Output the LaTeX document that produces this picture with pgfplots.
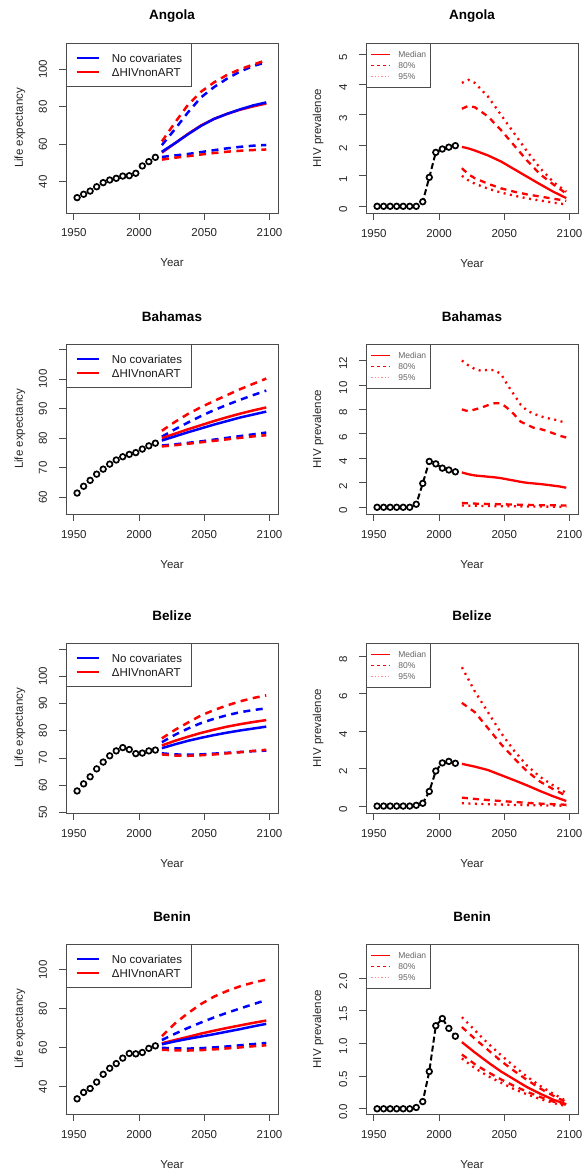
\documentclass[border=0pt]{standalone}
\usepackage{fontspec}
\setmainfont{Liberation Sans}
\usepackage{pgfplots}
\pgfplotsset{compat=1.18}
\definecolor{rblue}{RGB}{0,0,255}
\definecolor{rred}{RGB}{255,0,0}
\definecolor{rpink}{RGB}{255,140,140}
\definecolor{axgray}{RGB}{75,75,75}
\pgfplotsset{
 base/.style={
  scale only axis, width=212pt, height=170pt,
  xmin=1944, xmax=2106.5,
  xtick={1950,2000,2050,2100},
  axis line style={axgray, line width=0.9pt},
  every tick/.style={axgray, line width=0.9pt},
  tick align=outside, major tick length=7pt,
  xtick pos=left, ytick pos=left,
  /pgf/number format/assume math mode=true,
  /pgf/number format/1000 sep={},
  tick label style={font=\fontsize{11.5}{12}\selectfont, text=black!85},
  xticklabel style={anchor=base, yshift=-17pt},
  yticklabel style={xshift=-12pt, rotate=90, anchor=base},
  every axis x label/.style={at={(axis description cs:0.5,0)}, anchor=base, yshift=-54pt, font=\fontsize{11.5}{12}\selectfont, text=black!85},
  every axis title/.style={at={(axis description cs:0.5,1)}, anchor=base, yshift=23pt, font=\bfseries\fontsize{13.5}{15}\selectfont},
  xlabel={Year},
 },
 leL/.style={base,
  every axis y label/.style={at={(axis description cs:0,0.5)}, xshift=-43pt, rotate=90, anchor=base, font=\fontsize{11.5}{12}\selectfont, text=black!85},
  ylabel={Life expectancy},
  legend cell align=left,
  legend style={at={(axis description cs:0,1)}, anchor=north west, draw=axgray, line width=0.9pt, fill=white,
    inner xsep=9.5pt, inner ysep=10.5pt, row sep=5.7pt, column sep=12.5pt,
    font=\fontsize{11.5}{12}\selectfont, text=black!90,
    nodes={inner sep=0pt, text height=8.3pt, text depth=0pt}},
  legend image code/.code={\draw[##1] (0pt,0pt) -- (22pt,0pt);},
 },
 hiv/.style={base,
  every axis y label/.style={at={(axis description cs:0,0.5)}, xshift=-45pt, rotate=90, anchor=base, font=\fontsize{11.5}{12}\selectfont, text=black!85},
  ylabel={HIV prevalence},
  yticklabel style={xshift=-3pt},
  legend cell align=left,
  legend style={at={(axis description cs:0,1)}, anchor=north west, draw=axgray, line width=0.9pt, fill=white,
    inner xsep=4pt, inner ysep=8pt, row sep=4.9pt, column sep=7pt,
    font=\fontsize{8.5}{9}\selectfont, text=black!60,
    nodes={inner sep=0pt, text height=6.1pt, text depth=0pt}},
  legend image code/.code={\draw[##1] (0pt,0pt) -- (19pt,0pt);},
 },
 obs/.style={only marks, mark=o, mark size=2.8pt, line width=1.7pt, black, forget plot},
 hobs/.style={black, line width=2pt, dash pattern=on 6pt off 3pt, mark=*, mark size=2.8pt, mark options={solid, fill=white, draw=black, line width=1.7pt}, forget plot},
 med/.style={line width=2.5pt, line cap=butt, forget plot},
 dsh/.style={line width=2.5pt, line cap=butt, dash pattern=on 7pt off 5.5pt, forget plot},
 hmed/.style={rred, line width=2.3pt, line cap=butt, forget plot},
 h80/.style={rred, line width=2.3pt, line cap=butt, dash pattern=on 6pt off 5pt, forget plot},
 h95/.style={rred, line width=2.3pt, line cap=butt, dash pattern=on 2pt off 4.5pt, forget plot},
}
\newcommand{\leleg}{%
 \addlegendimage{draw=rblue, color=rblue, line width=1.4pt}\addlegendentry{No covariates}
 \addlegendimage{draw=rred, color=rred, line width=1.4pt}\addlegendentry{ΔHIVnonART}}
\newcommand{\hivleg}{%
 \addlegendimage{draw=rred, color=rred, solid, line width=1.9pt}\addlegendentry{Median}
 \addlegendimage{draw=rred, color=rred, line width=1.9pt, dash pattern=on 3pt off 3pt}\addlegendentry{80\%}
 \addlegendimage{draw=rpink, color=rpink, line width=1.5pt, dash pattern=on 1.3pt off 2pt}\addlegendentry{95\%}}
\begin{document}
\begin{tikzpicture}
%================ Angola LE
\begin{axis}[leL, at={(66pt,-43pt)}, anchor=north west, title={Angola},
  ymin=23.3, ymax=114, ytick={40,60,80,100}]
\leleg
\addplot[obs] coordinates {(1952.5,31.5)(1957.5,33.3)(1962.5,35.0)(1967.5,37.3)(1972.5,39.5)(1977.5,40.9)(1982.5,41.8)(1987.5,43.0)(1992.5,43.2)(1997.5,44.5)(2002.5,48.4)(2007.5,50.7)(2012.5,53.0)};
\addplot[dsh, rblue] coordinates {(2017.5,59.5)(2027.5,68.0)(2037.5,77.0)(2047.5,85.0)(2057.5,90.5)(2067.5,95.0)(2077.5,98.8)(2087.5,101.7)(2097.5,103.8)};
\addplot[dsh, rblue] coordinates {(2017.5,53.2)(2027.5,54.0)(2037.5,54.8)(2047.5,55.8)(2057.5,56.8)(2067.5,57.8)(2077.5,58.6)(2087.5,59.2)(2097.5,59.6)};
\addplot[dsh, rred] coordinates {(2017.5,61.5)(2027.5,71.5)(2037.5,81.0)(2047.5,88.0)(2057.5,93.0)(2067.5,97.0)(2077.5,100.0)(2087.5,102.5)(2097.5,104.8)};
\addplot[dsh, rred] coordinates {(2017.5,51.8)(2027.5,52.8)(2037.5,53.6)(2047.5,54.5)(2057.5,55.3)(2067.5,56.0)(2077.5,56.5)(2087.5,56.9)(2097.5,57.2)};
\addplot[med, rred] coordinates {(2017.5,55.5)(2027.5,60.5)(2037.5,65.5)(2047.5,70.0)(2057.5,73.5)(2067.5,76.2)(2077.5,78.4)(2087.5,80.2)(2097.5,81.7)};
\addplot[med, rblue] coordinates {(2017.5,56.0)(2027.5,60.5)(2037.5,65.3)(2047.5,69.8)(2057.5,73.5)(2067.5,76.2)(2077.5,78.6)(2087.5,80.7)(2097.5,82.3)};
\end{axis}
%================ Angola HIV
\begin{axis}[hiv, at={(366pt,-43pt)}, anchor=north west, title={Angola},
  ymin=-0.22, ymax=5.36, ytick={0,1,2,3,4,5}]
\hivleg
\addplot[hobs] coordinates {(1952.5,0)(1957.5,0)(1962.5,0)(1967.5,0)(1972.5,0)(1977.5,0)(1982.5,0)(1987.5,0.15)(1992.5,0.95)(1997.5,1.77)(2002.5,1.88)(2007.5,1.94)(2012.5,1.99)};
\addplot[hmed] coordinates {(2017.5,1.95)(2022.5,1.90)(2027.5,1.83)(2037.5,1.67)(2047.5,1.47)(2057.5,1.22)(2067.5,0.97)(2077.5,0.72)(2087.5,0.48)(2097.5,0.27)};
\addplot[h80] coordinates {(2017.5,3.20)(2022.5,3.30)(2027.5,3.25)(2037.5,2.95)(2047.5,2.50)(2057.5,2.00)(2067.5,1.50)(2077.5,1.05)(2087.5,0.72)(2097.5,0.42)};
\addplot[h80] coordinates {(2017.5,1.25)(2022.5,1.05)(2027.5,0.92)(2037.5,0.74)(2047.5,0.59)(2057.5,0.48)(2067.5,0.39)(2077.5,0.32)(2087.5,0.25)(2097.5,0.18)};
\addplot[h95] coordinates {(2017.5,4.05)(2022.5,4.15)(2027.5,4.05)(2037.5,3.60)(2047.5,3.00)(2057.5,2.40)(2067.5,1.80)(2077.5,1.25)(2087.5,0.80)(2097.5,0.48)};
\addplot[h95] coordinates {(2017.5,1.00)(2022.5,0.85)(2027.5,0.74)(2037.5,0.58)(2047.5,0.45)(2057.5,0.35)(2067.5,0.26)(2077.5,0.19)(2087.5,0.12)(2097.5,0.06)};
\end{axis}
%================ Bahamas LE
\begin{axis}[leL, at={(66pt,-344pt)}, anchor=north west, title={Bahamas},
  ymin=54.3, ymax=111.9, ytick={60,70,80,90,100,110}, yticklabels={60,70,80,90,100,{}}]
\leleg
\addplot[obs] coordinates {(1952.5,61.4)(1957.5,63.7)(1962.5,65.7)(1967.5,67.8)(1972.5,69.5)(1977.5,71.2)(1982.5,72.6)(1987.5,73.7)(1992.5,74.5)(1997.5,75.1)(2002.5,76.3)(2007.5,77.4)(2012.5,78.3)};
\addplot[dsh, rblue] coordinates {(2017.5,80.5)(2027.5,83.0)(2037.5,85.3)(2047.5,87.5)(2057.5,89.5)(2067.5,91.3)(2077.5,93.0)(2087.5,94.6)(2097.5,96.1)};
\addplot[dsh, rblue] coordinates {(2017.5,77.5)(2027.5,77.9)(2037.5,78.4)(2047.5,78.9)(2057.5,79.5)(2067.5,80.1)(2077.5,80.7)(2087.5,81.3)(2097.5,81.9)};
\addplot[dsh, rred] coordinates {(2017.5,82.5)(2027.5,85.5)(2037.5,88.2)(2047.5,90.5)(2057.5,92.6)(2067.5,94.6)(2077.5,96.6)(2087.5,98.4)(2097.5,100.2)};
\addplot[dsh, rred] coordinates {(2017.5,77.2)(2027.5,77.6)(2037.5,78.1)(2047.5,78.6)(2057.5,79.1)(2067.5,79.6)(2077.5,80.1)(2087.5,80.6)(2097.5,81.0)};
\addplot[med, rred] coordinates {(2017.5,80.0)(2027.5,81.5)(2037.5,83.0)(2047.5,84.4)(2057.5,85.8)(2067.5,87.1)(2077.5,88.3)(2087.5,89.4)(2097.5,90.4)};
\addplot[med, rblue] coordinates {(2017.5,79.2)(2027.5,80.6)(2037.5,82.0)(2047.5,83.3)(2057.5,84.6)(2067.5,85.8)(2077.5,87.0)(2087.5,88.0)(2097.5,89.0)};
\end{axis}
%================ Bahamas HIV
\begin{axis}[hiv, at={(366pt,-344pt)}, anchor=north west, title={Bahamas},
  ymin=-0.55, ymax=13.35, ytick={0,2,4,6,8,10,12}]
\hivleg
\addplot[hobs] coordinates {(1952.5,0)(1957.5,0)(1962.5,0)(1967.5,0)(1972.5,0)(1977.5,0)(1982.5,0.25)(1987.5,1.95)(1992.5,3.75)(1997.5,3.55)(2002.5,3.2)(2007.5,3.05)(2012.5,2.9)};
\addplot[hmed] coordinates {(2017.5,2.85)(2022.5,2.7)(2027.5,2.6)(2032.5,2.55)(2037.5,2.5)(2042.5,2.45)(2047.5,2.38)(2052.5,2.28)(2057.5,2.18)(2062.5,2.08)(2067.5,2.0)(2072.5,1.95)(2077.5,1.9)(2082.5,1.84)(2087.5,1.77)(2092.5,1.7)(2097.5,1.6)};
\addplot[h80] coordinates {(2017.5,8.0)(2022.5,7.85)(2027.5,8.0)(2032.5,8.15)(2037.5,8.35)(2042.5,8.5)(2047.5,8.5)(2052.5,8.1)(2057.5,7.6)(2062.5,7.0)(2067.5,6.75)(2072.5,6.5)(2077.5,6.4)(2082.5,6.25)(2087.5,6.05)(2092.5,5.85)(2097.5,5.7)};
\addplot[h80] coordinates {(2017.5,0.35)(2027.5,0.3)(2037.5,0.27)(2047.5,0.25)(2057.5,0.22)(2067.5,0.2)(2077.5,0.17)(2087.5,0.16)(2097.5,0.15)};
\addplot[h95] coordinates {(2017.5,12.0)(2022.5,11.6)(2027.5,11.3)(2032.5,11.15)(2037.5,11.25)(2042.5,11.2)(2047.5,10.9)(2052.5,10.0)(2057.5,9.2)(2062.5,8.4)(2067.5,7.9)(2072.5,7.65)(2077.5,7.45)(2082.5,7.3)(2087.5,7.2)(2092.5,7.05)(2097.5,6.9)};
\addplot[h95] coordinates {(2017.5,0.15)(2027.5,0.12)(2037.5,0.1)(2047.5,0.09)(2057.5,0.08)(2067.5,0.07)(2077.5,0.06)(2087.5,0.05)(2097.5,0.05)};
\end{axis}
%================ Belize LE
\begin{axis}[leL, at={(66pt,-643pt)}, anchor=north west, title={Belize},
  ymin=49.8, ymax=112.2, ytick={50,60,70,80,90,100,110}, yticklabels={50,60,70,80,90,100,{}}]
\leleg
\addplot[obs] coordinates {(1952.5,57.9)(1957.5,60.5)(1962.5,63.1)(1967.5,66.0)(1972.5,68.5)(1977.5,70.8)(1982.5,72.6)(1987.5,73.8)(1992.5,73.1)(1997.5,71.6)(2002.5,71.8)(2007.5,72.6)(2012.5,72.9)};
\addplot[dsh, rblue] coordinates {(2017.5,75.8)(2027.5,78.5)(2037.5,80.8)(2047.5,82.8)(2057.5,84.4)(2067.5,85.7)(2077.5,86.8)(2087.5,87.6)(2097.5,88.2)};
\addplot[dsh, rblue] coordinates {(2017.5,71.7)(2027.5,71.3)(2037.5,71.2)(2047.5,71.3)(2057.5,71.6)(2067.5,71.9)(2077.5,72.2)(2087.5,72.5)(2097.5,72.7)};
\addplot[dsh, rred] coordinates {(2017.5,77.2)(2027.5,80.3)(2037.5,83.0)(2047.5,85.6)(2057.5,87.6)(2067.5,89.3)(2077.5,90.8)(2087.5,92.0)(2097.5,93.0)};
\addplot[dsh, rred] coordinates {(2017.5,71.3)(2027.5,70.9)(2037.5,70.8)(2047.5,71.0)(2057.5,71.3)(2067.5,71.7)(2077.5,72.1)(2087.5,72.6)(2097.5,73.0)};
\addplot[med, rred] coordinates {(2017.5,74.6)(2027.5,76.3)(2037.5,77.8)(2047.5,79.2)(2057.5,80.4)(2067.5,81.5)(2077.5,82.4)(2087.5,83.2)(2097.5,83.9)};
\addplot[med, rblue] coordinates {(2017.5,73.6)(2027.5,75.0)(2037.5,76.3)(2047.5,77.4)(2057.5,78.4)(2067.5,79.3)(2077.5,80.1)(2087.5,80.8)(2097.5,81.5)};
\end{axis}
%================ Belize HIV
\begin{axis}[hiv, at={(366pt,-643pt)}, anchor=north west, title={Belize},
  ymin=-0.37, ymax=8.69, ytick={0,2,4,6,8}]
\hivleg
\addplot[hobs] coordinates {(1952.5,0)(1957.5,0)(1962.5,0)(1967.5,0)(1972.5,0)(1977.5,0)(1982.5,0.04)(1987.5,0.15)(1992.5,0.78)(1997.5,1.87)(2002.5,2.3)(2007.5,2.38)(2012.5,2.28)};
\addplot[hmed] coordinates {(2017.5,2.25)(2027.5,2.1)(2037.5,1.92)(2047.5,1.65)(2057.5,1.38)(2067.5,1.1)(2077.5,0.8)(2087.5,0.52)(2097.5,0.27)};
\addplot[h80] coordinates {(2017.5,5.5)(2027.5,5.0)(2037.5,4.15)(2047.5,3.3)(2057.5,2.55)(2067.5,1.85)(2077.5,1.3)(2087.5,0.9)(2097.5,0.55)};
\addplot[h80] coordinates {(2017.5,0.45)(2027.5,0.38)(2037.5,0.32)(2047.5,0.27)(2057.5,0.22)(2067.5,0.17)(2077.5,0.13)(2087.5,0.1)(2097.5,0.07)};
\addplot[h95] coordinates {(2017.5,7.4)(2027.5,6.1)(2037.5,5.0)(2047.5,3.9)(2057.5,2.95)(2067.5,2.15)(2077.5,1.55)(2087.5,1.1)(2097.5,0.7)};
\addplot[h95] coordinates {(2017.5,0.15)(2027.5,0.12)(2037.5,0.1)(2047.5,0.08)(2057.5,0.06)(2067.5,0.05)(2077.5,0.04)(2087.5,0.03)(2097.5,0.02)};
\end{axis}
%================ Benin LE
\begin{axis}[leL, at={(66pt,-944pt)}, anchor=north west, title={Benin},
  ymin=26.0, ymax=113.3, ytick={40,60,80,100}]
\leleg
\addplot[obs] coordinates {(1952.5,33.8)(1957.5,37.1)(1962.5,39.1)(1967.5,42.4)(1972.5,46.4)(1977.5,49.5)(1982.5,51.9)(1987.5,54.7)(1992.5,57.1)(1997.5,56.9)(2002.5,57.6)(2007.5,59.7)(2012.5,61.0)};
\addplot[dsh, rblue] coordinates {(2017.5,64.0)(2027.5,67.2)(2037.5,70.2)(2047.5,73.0)(2057.5,75.6)(2067.5,78.0)(2077.5,80.2)(2087.5,82.4)(2097.5,84.5)};
\addplot[dsh, rblue] coordinates {(2017.5,60.0)(2027.5,59.7)(2037.5,59.6)(2047.5,59.8)(2057.5,60.2)(2067.5,60.7)(2077.5,61.3)(2087.5,61.9)(2097.5,62.5)};
\addplot[dsh, rred] coordinates {(2017.5,66.0)(2027.5,72.5)(2037.5,77.8)(2047.5,82.5)(2057.5,86.3)(2067.5,89.2)(2077.5,91.6)(2087.5,93.5)(2097.5,95.0)};
\addplot[dsh, rred] coordinates {(2017.5,59.0)(2027.5,58.7)(2037.5,58.6)(2047.5,58.8)(2057.5,59.2)(2067.5,59.7)(2077.5,60.2)(2087.5,60.8)(2097.5,61.3)};
\addplot[med, rred] coordinates {(2017.5,62.3)(2027.5,64.0)(2037.5,65.6)(2047.5,67.3)(2057.5,68.8)(2067.5,70.2)(2077.5,71.5)(2087.5,72.8)(2097.5,74.0)};
\addplot[med, rblue] coordinates {(2017.5,61.8)(2027.5,63.3)(2037.5,64.6)(2047.5,65.8)(2057.5,67.0)(2067.5,68.3)(2077.5,69.6)(2087.5,71.0)(2097.5,72.3)};
\end{axis}
%================ Benin HIV
\begin{axis}[hiv, at={(366pt,-944pt)}, anchor=north west, title={Benin},
  ymin=-0.08, ymax=2.52, ytick={0,0.5,1,1.5,2}, yticklabels={0.0,0.5,1.0,1.5,2.0}]
\hivleg
\addplot[hobs] coordinates {(1952.5,0)(1957.5,0)(1962.5,0)(1967.5,0)(1972.5,0)(1977.5,0)(1982.5,0.02)(1987.5,0.11)(1992.5,0.57)(1997.5,1.27)(2002.5,1.38)(2007.5,1.23)(2012.5,1.11)};
\addplot[hmed] coordinates {(2017.5,1.02)(2027.5,0.86)(2037.5,0.71)(2047.5,0.57)(2057.5,0.45)(2067.5,0.33)(2077.5,0.23)(2087.5,0.14)(2097.5,0.07)};
\addplot[h80] coordinates {(2017.5,1.25)(2027.5,1.07)(2037.5,0.9)(2047.5,0.73)(2057.5,0.58)(2067.5,0.44)(2077.5,0.31)(2087.5,0.2)(2097.5,0.1)};
\addplot[h80] coordinates {(2017.5,0.83)(2027.5,0.68)(2037.5,0.56)(2047.5,0.45)(2057.5,0.35)(2067.5,0.26)(2077.5,0.18)(2087.5,0.11)(2097.5,0.06)};
\addplot[h95] coordinates {(2017.5,1.4)(2027.5,1.2)(2037.5,1.0)(2047.5,0.82)(2057.5,0.65)(2067.5,0.49)(2077.5,0.35)(2087.5,0.23)(2097.5,0.12)};
\addplot[h95] coordinates {(2017.5,0.77)(2027.5,0.62)(2037.5,0.5)(2047.5,0.4)(2057.5,0.3)(2067.5,0.22)(2077.5,0.15)(2087.5,0.09)(2097.5,0.04)};
\end{axis}
\pgfresetboundingbox
\path[use as bounding box] (0pt,0pt) rectangle (582pt,-1172pt);
\end{tikzpicture}
\end{document}
